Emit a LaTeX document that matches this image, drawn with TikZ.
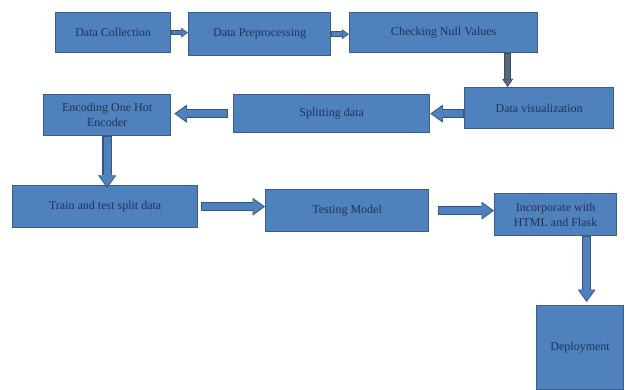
\documentclass[tikz,border=0pt]{standalone}
\usepackage{fontspec}
\setmainfont{Liberation Serif}
\usetikzlibrary{arrows.meta,calc}
\definecolor{boxfill}{HTML}{4F81BD}
\definecolor{boxline}{HTML}{3A5E8C}
\definecolor{txt}{HTML}{1F3358}
\definecolor{arrfill}{HTML}{4F81BD}
\definecolor{arrdark}{HTML}{34557F}
\definecolor{vfill}{HTML}{56687E}
\definecolor{vdark}{HTML}{3C4A5C}
\tikzset{
  box/.style={draw=boxline, line width=1.3pt, fill=boxfill, anchor=north west,
    inner sep=1pt, text=txt, align=center,
    font=\fontsize{12}{16}\selectfont},
  barrow/.style={
    preaction={draw=arrdark, line width=9.5pt, shorten >=0pt, shorten <=0pt,
      -{Triangle[width=18pt,length=12.5pt,line width=0pt]}},
    draw=arrfill, line width=7pt, shorten >=1.6pt, shorten <=0.8pt,
    -{Triangle[width=15pt,length=10.5pt,line width=0pt]}},
  sarrow/.style={
    preaction={draw=arrdark, line width=5.5pt, shorten >=0pt, shorten <=0pt,
      -{Triangle[width=10pt,length=7pt,line width=0pt]}},
    draw=arrfill, line width=3.5pt, shorten >=1.2pt, shorten <=0.6pt,
    -{Triangle[width=7.5pt,length=5.5pt,line width=0pt]}},
  varrow/.style={
    preaction={draw=vdark, line width=6.5pt, shorten >=0pt, shorten <=0pt,
      -{Triangle[width=11pt,length=8pt,line width=0pt]}},
    draw=vfill, line width=4.5pt, shorten >=1.2pt, shorten <=0.6pt,
    -{Triangle[width=8.5pt,length=6.5pt,line width=0pt]}},
}
\begin{document}
\begin{tikzpicture}[x=1pt,y=-1pt]
\useasboundingbox[fill=white] (0,0) rectangle (626,390);
% boxes
\node[box, minimum width=115pt, minimum height=40pt] (dc)  at (55,12)  {Data Collection};
\node[box, minimum width=142pt, minimum height=43pt] (dp)  at (188,12) {Data Preprocessing};
\node[box, minimum width=188pt, minimum height=40pt] (cnv) at (349,12) {Checking Null Values};
\node[box, minimum width=149pt, minimum height=41pt] (dv)  at (464,87) {Data visualization};
\node[box, minimum width=196pt, minimum height=38pt] (sp)  at (233,94) {Splitting data};
\node[box, minimum width=127pt, minimum height=41pt] (enc) at (43,94)  {Encoding One Hot\\[-1pt]Encoder};
\node[box, minimum width=185pt, minimum height=42pt] (tr)  at (12,185) {Train and test split data};
\node[box, minimum width=163pt, minimum height=42pt] (tm)  at (265,189) {Testing Model};
\node[box, minimum width=122pt, minimum height=42pt] (inc) at (494,193) {Incorporate with\\[-1pt]HTML and Flask};
\node[box, minimum width=87pt, minimum height=84pt]  (dep) at (536,305) {Deployment};
% connectors
\draw[sarrow] (dc.east) -- (dc.east -| dp.west);
\draw[sarrow] (dp.east) -- (dp.east -| cnv.west);
\draw[varrow] ([xshift=64pt]cnv.south) -- ([xshift=64pt]cnv.south |- dv.north);
\draw[barrow] (sp.east -| dv.west) -- (sp.east);
\draw[barrow] ([xshift=-5pt]sp.west) -- ([xshift=3pt]sp.west -| enc.east);
\draw[barrow] (enc.south) -- ([yshift=-3pt]enc.south |- tr.north);
\draw[barrow] ([xshift=3pt]tr.east) -- (tr.east -| tm.west);
\draw[barrow] ([xshift=9pt]tm.east) -- (tm.east -| inc.west);
\draw[barrow] ([xshift=6.5pt]dep.north |- inc.south) -- ([xshift=6.5pt,yshift=3pt]dep.north);
\end{tikzpicture}
\end{document}
